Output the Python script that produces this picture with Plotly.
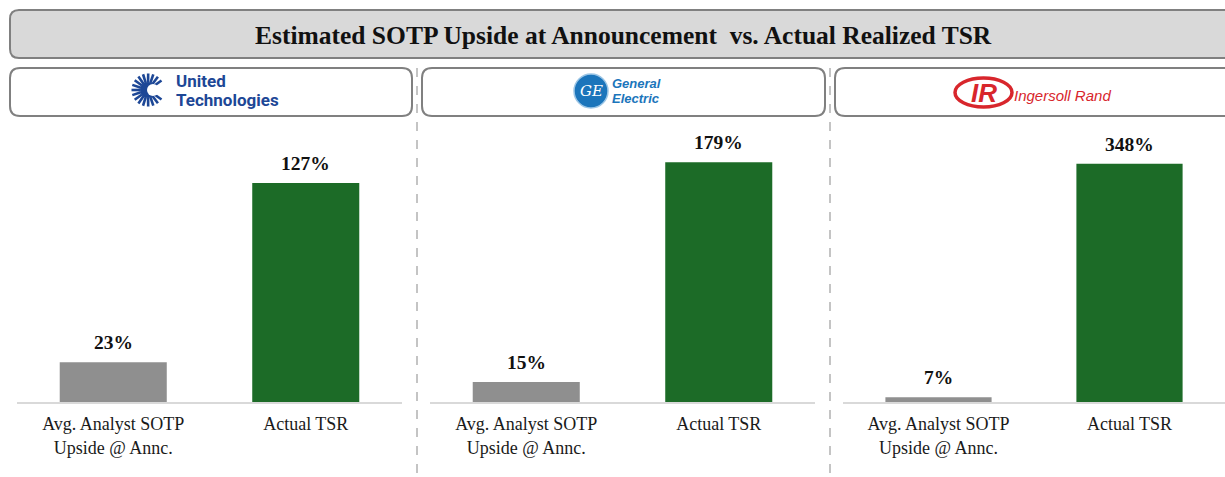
import numpy as np
import plotly.graph_objects as go

W, H = 1225, 477

# ---------------- data ----------------
categories = ["Avg. Analyst SOTP<br>Upside @ Annc.", "Actual TSR"]
companies = ["United Technologies", "General Electric", "Ingersoll Rand"]
sotp_upside = [23, 15, 7]        # Avg. analyst SOTP upside at announcement (%)
actual_tsr = [127, 179, 348]     # Actual realized TSR (%)
title_text = "Estimated SOTP Upside at Announcement  vs. Actual Realized TSR"

# ---------------- style ----------------
GRAY_BAR = "#8f8f8f"
GREEN_BAR = "#1c6b27"
SERIF = "Liberation Serif, Times New Roman, serif"
BOX_LINE = "#808080"

panel_x_px = [(17, 402), (430, 815), (843, 1225)]
y_bottom_px, y_top_px = 402, 120
y_range_top = [163.5, 210.5, 412.0]


def px(x):
    return x / W


def py(y):
    return 1 - y / H


def rounded_rect(x0, y0, x1, y1, r):
    rx, ry = r / W, r / H
    X0, X1 = px(x0), px(x1)
    Y0, Y1 = py(y0), py(y1)  # Y0 top (larger), Y1 bottom
    return (f"M {X0+rx},{Y0} L {X1-rx},{Y0} Q {X1},{Y0} {X1},{Y0-ry} "
            f"L {X1},{Y1+ry} Q {X1},{Y1} {X1-rx},{Y1} "
            f"L {X0+rx},{Y1} Q {X0},{Y1} {X0},{Y1+ry} "
            f"L {X0},{Y0-ry} Q {X0},{Y0} {X0+rx},{Y0} Z")


def label(x, y, text, font, xanchor="center"):
    return dict(x=px(x), y=py(y), xref="paper", yref="paper", text=text,
                showarrow=False, xanchor=xanchor, yanchor="middle", font=font,
                borderpad=0)


fig = go.Figure()
shapes = []
annotations = []

for i in range(3):
    ax = "" if i == 0 else str(i + 1)
    vals = [sotp_upside[i], actual_tsr[i]]
    fig.add_trace(go.Bar(
        x=categories, y=vals,
        marker=dict(color=[GRAY_BAR, GREEN_BAR], line=dict(width=0)),
        width=0.556, xaxis="x" + ax, yaxis="y" + ax,
        showlegend=False, hoverinfo="skip",
    ))
    x0, x1 = panel_x_px[i]
    fig.update_layout(**{
        "xaxis" + ax: dict(
            domain=[px(x0), px(x1)], anchor="y" + ax,
            showline=True, linecolor="#d9d9d9", linewidth=1.5,
            showgrid=False, zeroline=False, ticks="",
            tickfont=dict(family=SERIF, size=18, color="#1a1a1a"),
            ticklabelstandoff=5, fixedrange=True,
        ),
        "yaxis" + ax: dict(
            domain=[py(y_bottom_px), py(y_top_px)], anchor="x" + ax,
            range=[0, y_range_top[i]], visible=False, fixedrange=True,
        ),
    })
    for c, v in zip(categories, vals):
        annotations.append(dict(
            x=c, y=v, xref="x" + ax, yref="y" + ax, text=f"<b>{v}%</b>",
            showarrow=False, xanchor="center", yanchor="bottom", yshift=7,
            font=dict(family=SERIF, size=19.5, color="#111111"),
        ))

# title box
shapes.append(dict(type="path", xref="paper", yref="paper",
                   path=rounded_rect(10, 10, 1245, 58, 9),
                   fillcolor="#d9d9d9", line=dict(color=BOX_LINE, width=2), layer="below"))
annotations.append(label(623, 35, f"<b>{title_text}</b>",
                         dict(family=SERIF, size=25.5, color="#111111")))

# header boxes
for (bx0, bx1) in [(10, 412), (422, 825), (835, 1245)]:
    shapes.append(dict(type="path", xref="paper", yref="paper",
                       path=rounded_rect(bx0, 68, bx1, 116, 10),
                       fillcolor="white", line=dict(color=BOX_LINE, width=2), layer="below"))

# dashed separators
for sx in [417, 830]:
    shapes.append(dict(type="line", xref="paper", yref="paper",
                       x0=px(sx), x1=px(sx), y0=py(68), y1=py(477),
                       line=dict(color="#c4c4c4", width=2, dash="dash")))

# ---- UTC logo ----
UTC_BLUE = "#1d4796"
cx, cy = 148, 90
for ang in np.linspace(35, 325, 17):
    a = np.deg2rad(ang)
    r0, r1 = 7.5, 16.5
    shapes.append(dict(type="line", xref="paper", yref="paper",
                       x0=px(cx + r0 * np.cos(a)), y0=py(cy - r0 * np.sin(a)),
                       x1=px(cx + r1 * np.cos(a)), y1=py(cy - r1 * np.sin(a)),
                       line=dict(color=UTC_BLUE, width=2.6)))
shapes.append(dict(type="circle", xref="paper", yref="paper",
                   x0=px(cx - 8), x1=px(cx + 8), y0=py(cy + 8), y1=py(cy - 8),
                   fillcolor=UTC_BLUE, line=dict(width=0)))
shapes.append(dict(type="circle", xref="paper", yref="paper",
                   x0=px(cx - 1), x1=px(cx + 11), y0=py(cy + 6), y1=py(cy - 6),
                   fillcolor="white", line=dict(width=0)))
UTC_FONT = "Roboto, Liberation Sans, Arial"
annotations.append(label(175, 81, "<b>United</b>",
                         dict(family=UTC_FONT, size=17, color=UTC_BLUE), "left"))
annotations.append(label(175, 100, "<b>Technologies</b>",
                         dict(family=UTC_FONT, size=17, color=UTC_BLUE), "left"))

# ---- GE logo ----
GE_BLUE = "#1b75bb"
gx, gy = 591, 91
shapes.append(dict(type="circle", xref="paper", yref="paper",
                   x0=px(gx - 17), x1=px(gx + 17), y0=py(gy + 17), y1=py(gy - 17),
                   fillcolor=GE_BLUE, line=dict(color="#9cc6e6", width=1.5)))
annotations.append(label(gx, gy, "<i>GE</i>",
                         dict(family="DejaVu Serif", size=15, color="white")))
annotations.append(label(611, 84, "<b><i>General</i></b>",
                         dict(family="Liberation Sans", size=13, color=GE_BLUE), "left"))
annotations.append(label(611, 99, "<b><i>Electric</i></b>",
                         dict(family="Liberation Sans", size=13, color=GE_BLUE), "left"))

# ---- Ingersoll Rand logo ----
IR_RED = "#d8262c"
shapes.append(dict(type="circle", xref="paper", yref="paper",
                   x0=px(955), x1=px(1012), y0=py(107), y1=py(78),
                   fillcolor="rgba(0,0,0,0)", line=dict(color=IR_RED, width=3.5)))
annotations.append(label(984, 93, "<b><i>IR</i></b>",
                         dict(family="Liberation Sans", size=26, color=IR_RED)))
annotations.append(label(1013, 96, "<i>Ingersoll Rand</i>",
                         dict(family="Liberation Sans", size=15, color=IR_RED), "left"))

fig.update_layout(
    width=W, height=H,
    margin=dict(l=0, r=0, t=0, b=0),
    paper_bgcolor="white", plot_bgcolor="white",
    shapes=shapes, annotations=annotations,
    bargap=0.44,
)

fig.write_html("out.html", config={"displayModeBar": False})
